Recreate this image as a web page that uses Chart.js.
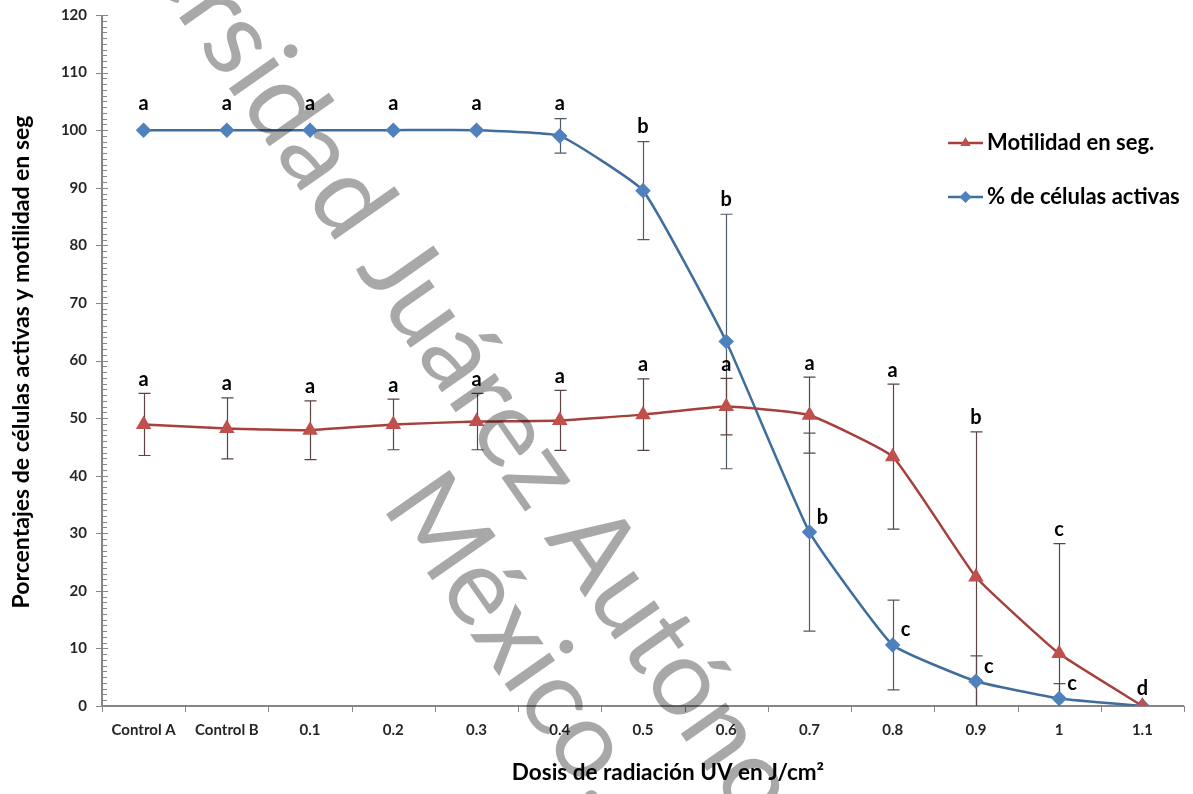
<!DOCTYPE html>
<html><head><meta charset="utf-8">
<script src="https://cdn.jsdelivr.net/npm/chart.js@4.4.0/dist/chart.umd.min.js"></script>
<style>html,body{margin:0;padding:0;background:#fff}#wrap{width:1193px;height:794px}</style>
</head><body><div id="wrap"><canvas id="c" width="1193" height="794"></canvas></div>
<script>
const categories = ['Control A','Control B','0.1','0.2','0.3','0.4','0.5','0.6','0.7','0.8','0.9','1','1.1'];
const motilidad = [48.9,48.2,47.9,48.9,49.4,49.6,50.6,52.0,50.5,43.3,22.4,9.1,0];
const motilidadErr = [5.4,5.3,5.1,4.4,4.9,5.2,6.2,4.9,6.6,12.6,25.2,19.1,0];
const activas = [100,100,100,100,100,99.0,89.5,63.3,30.2,10.6,4.3,1.3,0];
const activasErr = [0,0,0,0,0,3.0,8.5,22.1,17.2,7.8,4.4,2.6,0];
const letrasMotilidad = ['a','a','a','a','a','a','a','a','a','a','b','c',''];
const letrasActivas = ['a','a','a','a','a','a','b','b','b','c','c','c','d'];
const yTicks = [0,10,20,30,40,50,60,70,80,90,100,110,120];
const seriesNames = ['Motilidad en seg.','% de células activas'];
const yTitle = 'Porcentajes de células activas y motilidad en seg';
const xTitle = 'Dosis de radiación UV en J/cm²';
const watermark1 = 'Universidad Juárez Autónoma de Tabasco';
const watermark2 = 'México.';

const FONT = 'Lato, "Open Sans", sans-serif';
const RED = '#c0504d', RED_LINE = '#a5403d';
const BLUE = '#4f81bd', BLUE_LINE = '#3f6d9c';

const customPlugin = {
  id: 'custom',
  beforeDatasetsDraw(chart) {
    const ctx = chart.ctx, x = chart.scales.x, y = chart.scales.y;
    const ca = chart.chartArea;
    ctx.save();
    ctx.strokeStyle = '#868686';
    ctx.lineWidth = 2;
    ctx.beginPath();
    ctx.moveTo(ca.left, ca.top); ctx.lineTo(ca.left, ca.bottom + 1);
    ctx.moveTo(ca.left - 1, ca.bottom); ctx.lineTo(ca.right, ca.bottom);
    ctx.stroke();
    ctx.lineWidth = 1;
    ctx.beginPath();
    for (let v = 0; v <= 120; v += 1) {
      const py = Math.round(y.getPixelForValue(v)) + 0.5;
      if (v % 10 === 0) { ctx.moveTo(ca.left - 6, py); ctx.lineTo(ca.left + 6, py); }
      else { ctx.moveTo(ca.left, py); ctx.lineTo(ca.left + 5, py); }
    }
    const n = categories.length, w = (ca.right - ca.left) / n;
    for (let i = 0; i <= n; i++) {
      const px = Math.round(ca.left + i * w) + 0.5;
      ctx.moveTo(px, ca.bottom); ctx.lineTo(px, ca.bottom + 6);
    }
    ctx.stroke();
    const drawErr = (vals, errs, color) => {
      ctx.strokeStyle = color; ctx.lineWidth = 1.2;
      vals.forEach((v, i) => {
        const e = errs[i]; if (!e) return;
        const px = Math.round(x.getPixelForValue(i)) + 0.5;
        const top = y.getPixelForValue(v + e);
        const botV = v - e;
        const bot = y.getPixelForValue(Math.max(0, botV));
        ctx.beginPath();
        ctx.moveTo(px, top); ctx.lineTo(px, bot);
        ctx.moveTo(px - 6, top); ctx.lineTo(px + 6, top);
        if (botV > 0) { ctx.moveTo(px - 6, bot); ctx.lineTo(px + 6, bot); }
        ctx.stroke();
      });
    };
    drawErr(activas, activasErr, '#505a66');
    drawErr(motilidad, motilidadErr, '#5a4444');
    ctx.restore();
  },
  afterDatasetsDraw(chart) {
    const ctx = chart.ctx, x = chart.scales.x, y = chart.scales.y;
    ctx.save();
    ctx.fillStyle = '#000';
    ctx.font = 'bold 20px ' + FONT;
    ctx.textAlign = 'center';
    ctx.textBaseline = 'middle';
    letrasMotilidad.forEach((t, i) => {
      if (!t) return;
      const px = x.getPixelForValue(i);
      const py = y.getPixelForValue(motilidad[i] + motilidadErr[i]) - 14;
      ctx.fillText(t, px, py);
    });
    letrasActivas.forEach((t, i) => {
      const px = x.getPixelForValue(i);
      const pv = y.getPixelForValue(activas[i]);
      let lx = px, ly;
      if (i >= 8 && i <= 11) { lx = px + 13; ly = pv - 15; }
      else if (i === 12) { ly = pv - 17; }
      else { ly = Math.min(y.getPixelForValue(activas[i] + activasErr[i]) - 15, pv - 27); }
      ctx.fillText(t, lx, ly);
    });
    const items = [[seriesNames[0], RED_LINE, RED, 'triangle', 143], [seriesNames[1], BLUE_LINE, BLUE, 'rectRot', 197]];
    items.forEach(([label, lc, mc, st, ly]) => {
      ctx.strokeStyle = lc; ctx.lineWidth = 2.5;
      ctx.beginPath(); ctx.moveTo(948, ly); ctx.lineTo(983, ly); ctx.stroke();
      ctx.fillStyle = mc;
      Chart.helpers.drawPoint(ctx, {pointStyle: st, radius: 6, borderWidth: 0}, 965.5, ly);
      ctx.fillStyle = '#000';
      ctx.textAlign = 'left';
      ctx.font = 'bold 22px ' + FONT;
      ctx.fillText(label, 987, ly);
    });
    ctx.fillStyle = '#000';
    ctx.textAlign = 'center';
    ctx.font = 'bold 22.5px ' + FONT;
    ctx.fillText(xTitle, 668, 773);
    ctx.save();
    ctx.translate(22, 362);
    ctx.rotate(-Math.PI / 2);
    ctx.font = 'bold 23px ' + FONT;
    ctx.fillText(yTitle, 0, 0);
    ctx.restore();
    ctx.restore();
  },
  afterDraw(chart) {
    const ctx = chart.ctx;
    ctx.save();
    ctx.globalCompositeOperation = 'multiply';
    ctx.fillStyle = '#a8a8a8';
    const size = 108;
    ctx.font = '400 ' + size + 'px ' + FONT;
    ctx.textBaseline = 'alphabetic';
    ctx.textAlign = 'left';
    const th = 55 * Math.PI / 180;
    const d = [Math.cos(th), Math.sin(th)], up = [Math.sin(th), -Math.cos(th)];
    const capH = 0.72 * size;
    const place = (text, preText, glyph, cx, cy) => {
      const pre = ctx.measureText(preText).width;
      const gw = ctx.measureText(glyph).width;
      const sx = cx - (gw / 2 + pre) * d[0] - (capH / 2) * up[0];
      const sy = cy - (gw / 2 + pre) * d[1] - (capH / 2) * up[1];
      ctx.save(); ctx.translate(sx, sy); ctx.rotate(th); ctx.fillText(text, 0, 0); ctx.restore();
    };
    place(watermark1, 'Universidad ', 'J', 400, 265);
    place(watermark2, '', 'M', 441, 525);
    ctx.restore();
  }
};

new Chart(document.getElementById('c'), {
  type: 'line',
  data: {
    labels: categories,
    datasets: [
      { label: seriesNames[0], data: motilidad, borderColor: RED_LINE, backgroundColor: RED,
        pointBackgroundColor: RED, pointBorderColor: RED, pointStyle: 'triangle', pointRadius: 6.5,
        borderWidth: 2.5, tension: 0.12 },
      { label: seriesNames[1], data: activas, borderColor: BLUE_LINE, backgroundColor: BLUE,
        pointBackgroundColor: BLUE, pointBorderColor: BLUE, pointStyle: 'rectRot', pointRadius: 6,
        borderWidth: 2.5, tension: 0.12 }
    ]
  },
  options: {
    responsive: false, animation: false, devicePixelRatio: 1,
    layout: { padding: { top: 15, right: 8, left: 0, bottom: 0 } },
    plugins: { legend: { display: false }, tooltip: { enabled: false } },
    scales: {
      x: { type: 'category', offset: true,
        grid: { display: false, drawTicks: false }, border: { display: false },
        ticks: { font: { family: FONT, size: 15, weight: 'bold' }, color: '#262626', padding: 15, maxRotation: 0, autoSkip: false },
        afterFit(s) { s.height = 88; s.paddingLeft = 0; s.paddingRight = 0; } },
      y: { min: 0, max: 120,
        grid: { display: false, drawTicks: false }, border: { display: false },
        ticks: { stepSize: 10, font: { family: FONT, size: 15, weight: 'bold' }, color: '#262626', padding: 15 },
        afterFit(s) { s.width = 102; s.paddingTop = 0; s.paddingBottom = 0; } }
    }
  },
  plugins: [customPlugin]
});
</script></body></html>
